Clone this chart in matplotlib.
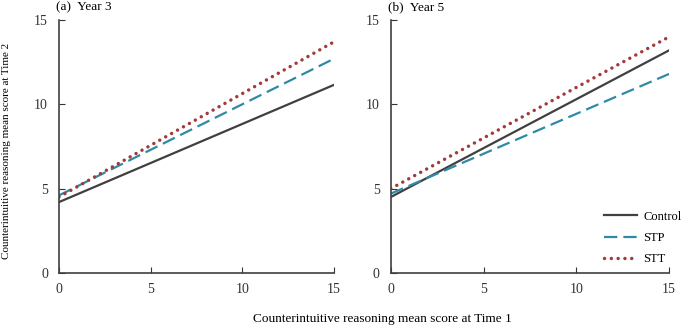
import matplotlib.pyplot as plt

plt.rcParams['font.family'] = 'Liberation Serif'

# x range of the regression lines
x_pts = [0, 15]

# Year 3 panel
y3_control = [4.2, 11.15]
y3_stp = [4.6, 12.7]
y3_stt = [4.5, 13.7]

# Year 5 panel
y5_control = [4.5, 13.2]
y5_stp = [4.7, 11.8]
y5_stt = [5.0, 14.0]

groups = ['Control', 'STP', 'STT']
colors = ['#404040', '#2f8aa6', '#a33a3a']

fig = plt.figure(figsize=(6.82, 3.28), dpi=100)
ax1 = fig.add_axes([0.0865, 0.168, 0.403, 0.771])
ax2 = fig.add_axes([0.573, 0.168, 0.408, 0.771])


def draw_panel(ax, ys, title):
    styles = [dict(linestyle='-', linewidth=1.6),
              dict(linestyle=(0, (6, 2.7)), linewidth=1.6),
              dict(linestyle=(0, (0.01, 1.95)), linewidth=2.5, dash_capstyle='round')]
    for y, name, c, st in zip(ys, groups, colors, styles):
        ax.plot(x_pts, y, color=c, label=name, **st)
    ax.set_xlim(0, 15)
    ax.set_ylim(0, 15)
    ax.set_xticks([0, 5, 10, 15])
    ax.set_yticks([0, 5, 10, 15])
    ax.tick_params(direction='in', length=4, labelsize=10, colors='#333333', pad=7)
    ax.tick_params(axis='y', pad=8)
    for s in ['top', 'right']:
        ax.spines[s].set_visible(False)
    for s in ['left', 'bottom']:
        ax.spines[s].set_color('#404040')
        ax.spines[s].set_linewidth(1.2)
    ax.text(-0.01, 1.052, title, transform=ax.transAxes, fontsize=9.5, ha='left', va='center')


draw_panel(ax1, [y3_control, y3_stp, y3_stt], '(a)  Year 3')
draw_panel(ax2, [y5_control, y5_stp, y5_stt], '(b)  Year 5')

ax2.legend(loc='lower right', bbox_to_anchor=(1.085, -0.015), frameon=False, fontsize=9,
           handlelength=2.6, handletextpad=0.5, labelspacing=0.75)

fig.text(0.009, 0.54, 'Counterintuitive reasoning mean score at Time 2', rotation=90,
         ha='center', va='center', fontsize=8)
fig.text(0.56, 0.027, 'Counterintuitive reasoning mean score at Time 1',
         ha='center', va='center', fontsize=9.5)

fig.savefig('out.png', dpi=100)
